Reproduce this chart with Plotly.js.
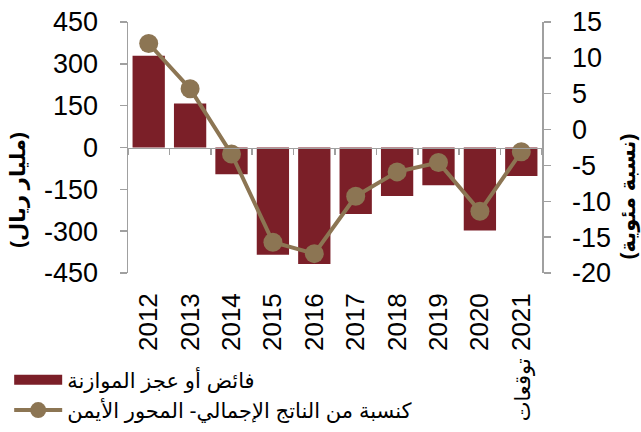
<!DOCTYPE html>
<html>
<head>
<meta charset="utf-8">
<script src="https://cdn.plot.ly/plotly-3.0.1.min.js"></script>
<style>
  html, body { margin: 0; padding: 0; background: #fff; }
  #chart { width: 641px; height: 432px; }
</style>
</head>
<body>
<div id="chart"></div>
<script>
// ---- data ----
const years = ['2012', '2013', '2014', '2015', '2016', '2017', '2018', '2019', '2020', '2021'];
const yearLabels = ['2012', '2013', '2014', '2015', '2016', '2017', '2018', '2019', '2020',
  '<span style="font-size:21px">توقعات</span>\u200E 2021'];
const balance = [329, 158, -96, -385, -418, -238, -174, -135, -298, -102];      // مليار ريال
const balancePctGDP = [12.0, 5.7, -3.4, -15.7, -17.3, -9.3, -5.9, -4.6, -11.4, -3.1]; // %
const leftTicks = [-450, -300, -150, 0, 150, 300, 450];
const rightTicks = [-20, -15, -10, -5, 0, 5, 10, 15];
const nameBars = 'فائض أو عجز الموازنة';
const nameLine = 'كنسبة من الناتج الإجمالي- المحور الأيمن';
const titleLeft = '(مليار ريال)';
const titleRight = '(نسبة مئوية)';

const FONT = 'Arial, "Liberation Sans", "DejaVu Sans", sans-serif';
const BAR = '#7B1F28';
const LINE = '#8C7553';
const AXIS = '#A0A0A0';
const TICKFONT = { family: FONT, size: 27, color: '#000' };

const traces = [
  {
    type: 'bar', x: years, y: balance, name: nameBars,
    xaxis: 'x', yaxis: 'y', showlegend: false,
    marker: { color: BAR }, hoverinfo: 'x+y'
  },
  { // legend key for the bars (wide rectangle, as in the reference)
    type: 'scatter', mode: 'lines', x: years, y: years.map(() => null), name: nameBars,
    xaxis: 'x', yaxis: 'y', line: { color: BAR, width: 13 }, hoverinfo: 'skip'
  },
  {
    type: 'scatter', mode: 'lines+markers', x: years, y: balancePctGDP, name: nameLine,
    xaxis: 'x2', yaxis: 'y2',
    line: { color: LINE, width: 4 },
    marker: { color: LINE, size: 19 }
  }
];

const layout = {
  width: 641, height: 432,
  margin: { l: 128, r: 99, t: 22, b: 159, autoexpand: false },
  paper_bgcolor: '#fff', plot_bgcolor: '#fff',
  font: { family: FONT, size: 24, color: '#000' },
  bargap: 0.22,
  showlegend: true,
  legend: {
    x: -0.287, y: -0.345, xanchor: 'left', yanchor: 'top',
    font: { family: FONT, size: 21, color: '#000' },
    bgcolor: 'rgba(0,0,0,0)', tracegroupgap: 0, itemwidth: 48
  },
  xaxis: {
    type: 'category', categoryorder: 'array', categoryarray: years,
    range: [-0.5, 9.5], domain: [0, 1], anchor: 'y', automargin: false,
    tickmode: 'array', tickvals: years, ticktext: yearLabels,
    tickangle: -90, showline: false, showgrid: false, zeroline: false,
    ticks: '', ticklabelstandoff: 14,
    tickfont: { family: FONT, size: 26, color: '#000' }
  },
  xaxis2: {
    type: 'category', categoryorder: 'array', categoryarray: years,
    range: [-0.5, 9.5], overlaying: 'x', anchor: 'free', position: 0.5,
    showline: true, linecolor: AXIS, linewidth: 1.5,
    ticks: 'outside', tickson: 'boundaries', ticklen: 6, tickwidth: 1.5, tickcolor: AXIS,
    showticklabels: false, showgrid: false, zeroline: false
  },
  yaxis: {
    range: [-450, 450], tickmode: 'array', tickvals: leftTicks, ticktext: leftTicks.map(String),
    showline: true, linecolor: AXIS, linewidth: 1.5, automargin: false,
    ticks: 'outside', ticklen: 7, tickwidth: 1.5, tickcolor: AXIS,
    ticklabelstandoff: 16,
    showgrid: false, zeroline: false,
    tickfont: TICKFONT
  },
  yaxis2: {
    range: [-20, 15], tickmode: 'array', tickvals: rightTicks, ticktext: rightTicks.map(String),
    overlaying: 'y', side: 'right', anchor: 'x', automargin: false,
    showline: true, linecolor: AXIS, linewidth: 1.5,
    ticks: 'outside', ticklen: 7, tickwidth: 1.5, tickcolor: AXIS,
    ticklabelstandoff: 16,
    showgrid: false, zeroline: false,
    tickfont: TICKFONT
  },
  annotations: [
    {
      text: titleLeft, xref: 'paper', yref: 'paper', x: -0.266, y: 0.33,
      showarrow: false, textangle: -90, xanchor: 'center', yanchor: 'middle',
      font: { family: FONT, size: 21, color: '#000', weight: 'bold' }
    },
    {
      text: titleRight, xref: 'paper', yref: 'paper', x: 1.21, y: 0.305,
      showarrow: false, textangle: -90, xanchor: 'center', yanchor: 'middle',
      font: { family: FONT, size: 21, color: '#000', weight: 'bold' }
    }
  ]
};

Plotly.newPlot('chart', traces, layout, { displayModeBar: false, staticPlot: true });
</script>
</body>
</html>
